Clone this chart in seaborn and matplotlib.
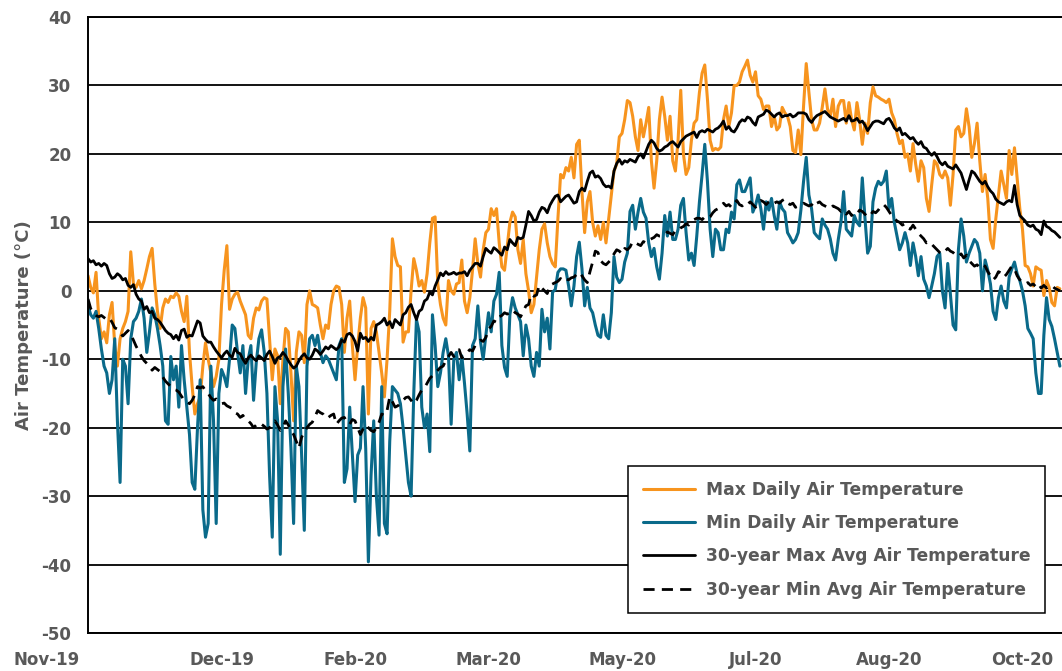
import pandas as pd
import matplotlib
matplotlib.use("Agg")
import matplotlib.pyplot as plt
import matplotlib.transforms as mtransforms
import seaborn as sns

########################## data ##########################

start_date = "2019-11-01"
tick_labels = ["Nov-19", "Dec-19", "Feb-20", "Mar-20", "May-20", "Jul-20", "Aug-20", "Oct-20"]
y_ticks = [-50, -40, -30, -20, -10, 0, 10, 20, 30, 40]

series_names = ["Max Daily Air Temperature", "Min Daily Air Temperature",
                "30-year Max Avg Air Temperature", "30-year Min Avg Air Temperature"]

# daily values (deg C), 1 Nov 2019 onwards
max_daily = [
    2.2, 0.5, -0.3, 2.7, -4, -7, -6, -7.6, -3.5, -1.7, -8, -11, -7, -5.5, -4.5, -3, 5.7, 1, 0.5, 1.5,
    0.3, 1.5, 3.2, 5, 6.2, 1, -3, -5.5, -2.5, -1.2, -1.7, -0.8, -1, -0.3, -0.8, -3, -4.5, -0.8, -9, -14,
    -18, -16.5, -15.5, -11, -7.6, -10,
    -12, -14, -12.5, -10, -2, 3, 6.6, -2.7, -1.2, -0.5, -0.2, -1.5, -2.5, -3.5, -6.5, -7, -4, -2.5, -2.8, -1.5,
    -1.0, -1.2, -7, -13, -8.5, -9.5, -16.5, -10, -5.5, -6, -12, -19, -9, -6, -6.5, -10.5, -2, 0, -2, -2.2,
    -2.5, -5, -7, -5, -5.5, -2, 0,
    0.7, 0.5, -2, -9, -4, -1.5, -8, -13, -8, -4, -1, -2.5, -18, -5.5, -4.5, -6, -9, -12, -15.5, -10,
    -3, 7.6, 5, 3.7, 3.5, -7.5, -6, -6, 0, 4.7, 3, 0.7, 1.5, -0.2, 2.5, 7, 10.6, 10.8, 1, -2,
    -4, -5, 1.5, 0, -0.5, 1, 1.2,
    4.5, -1.5, -3.2, -1, 3, 7.6, 4, 2, 6, 8.5, 9, 12, 11, 12, 7, 3.5, 3, 6.5, 10, 11.5,
    10.8, 6, 4, 7.5, 2.5, 0, -3.2, -2, 2, 6, 9, 9.8, 7, 5, 4, 3.5, 10.6, 17, 16.5, 18,
    17.5, 19.5, 16.5, 21.4, 22, 14.5, 8.5,
    13, 14.5, 10, 8, 9.5, 7.5, 10, 7, 10.5, 14, 17.5, 18.5, 22.5, 23, 25, 27.8, 27.5, 25.5, 22.5, 20.5,
    25, 22.5, 24.5, 26.8, 19, 15, 19, 25, 28.3, 25.5, 22, 25.5, 19, 17.5, 22, 29.3, 20, 17, 18, 22,
    24.5, 25, 29, 31.8, 33, 28, 22,
    20.5, 20.8, 20.6, 21, 25, 27, 24, 26, 30, 30, 30.5, 32, 32.8, 33.7, 31.5, 30.5, 32, 28.5, 28, 26.5,
    27, 27, 24, 25.5, 23.5, 24, 26.8, 26, 25.5, 24, 20.5, 20.2, 23.5, 19.9, 27, 33.2, 29, 25, 23.5, 23.5,
    24.5, 26.8, 29.5, 26.5, 25.5, 28, 24,
    27, 27.8, 27.8, 24.5, 27.5, 25, 23.5, 27.5, 25, 21.4, 24.5, 23, 27.5, 29.8, 28.5, 28.3, 28, 27.8, 27.5, 28,
    26, 25, 23, 21.5, 22, 19.5, 20, 17.5, 21.5, 18.5, 16, 19, 18, 13.5, 11.6, 15.5, 19, 18.5, 17, 16.5,
    17.5, 16.5, 12.5, 17, 23.5, 24,
    22.5, 23, 26.6, 24, 19.5, 21.5, 24.5, 19, 14.5, 17, 13.5, 7.5, 6.2, 10.5, 14, 17.5, 15.5, 13.5, 20.5, 17,
    20.9, 16.5, 12, 9, 3.7, 3.5, 2.5, 0.7, 3.5, 3.2, 3.0, -0.7, 1.5, 0.5, -1.7, -2.2, 0.5, 0.3,
]

min_daily = [
    -2.2, -3.5, -4, -3, -5.5, -8.5, -11, -12, -15, -13, -7, -19, -28, -10, -11, -16.5, -7, -4.5, -4, -3,
    -1.2, -4, -9, -6, -2.5, -3.5, -5.5, -8, -11, -19, -19.5, -9.6, -13, -11, -17, -8, -13, -17, -21, -28,
    -29, -20, -13, -32, -36, -34,
    -11, -19, -34, -15, -11.5, -12.5, -14, -10, -5, -5.5, -9, -12, -8, -15, -10, -8, -16, -10.5, -7, -5.7,
    -9, -15, -27, -36, -14, -19, -38.5, -14, -8.5, -15, -23, -34, -11, -14, -24, -35, -11, -7, -6.5, -8,
    -6.5, -9, -10.5, -9.5, -10, -11, -12,
    -13, -8, -7, -28, -26, -17, -24, -30.8, -24, -23, -14, -23, -39.6, -27, -19, -30, -35.7, -14, -34, -35.5,
    -22, -14, -14.5, -15, -16.5, -20, -24, -28, -30, -15, -4.2, -6, -17, -20, -18, -23.5, -3.5, -8, -14, -12,
    -9, -7, -9.5, -19.5, -10, -9, -13,
    -9.5, -13.5, -18, -23.4, -8, -7, -2.2, -7.5, -10, -6.5, -3.2, -6, -1.5, -0.5, 2.7, -8, -11.2, -12.5, -3.5, -1,
    -2.5, -3.5, -4.5, -9.5, -5, -7, -11, -12.5, -9, -11, -2.7, -6, -4, -8.5, -0.2, 0.2, 2.7, 3.2, 3.2, 3.0,
    0.7, -2.2, 0.7, 5, 7.1, 3.2, -2.2,
    0.5, -2.5, -3.2, -5, -6.5, -6.8, -3.5, -6.5, -7, -3.2, 5, 2, 1.2, 1.7, 4.2, 5.5, 11.6, 12.5, 9, 11.5,
    13.5, 11.5, 10.6, 7, 5, 6.2, 3.5, 1.7, 5.5, 11, 8, 11.5, 7.5, 7.5, 9, 12.5, 13.5, 8.5, 4.5, 5.5,
    3.7, 8, 13, 17, 21.4, 16, 9,
    5, 9, 8.5, 6, 6, 9, 8.5, 11.5, 10.5, 15.5, 16.2, 14.5, 14.5, 15.5, 16.5, 11.5, 12.5, 14, 12, 9,
    13, 11.8, 13.5, 11, 9, 13, 12, 11.5, 8.5, 7.8, 7, 7.5, 8.5, 11.8, 16, 19.5, 14, 12, 8.5, 8,
    7.6, 10.5, 9.6, 9, 7.6, 5.5, 4.5,
    7.5, 10, 14.5, 9, 8.5, 8, 11, 10, 9.5, 16.5, 10.6, 5.5, 6.5, 13, 15, 16, 15.5, 16, 17.5, 12,
    13.5, 10, 8, 6, 7, 8.5, 7, 3.7, 7, 5, 2.2, 5, 1.7, 0.7, -1, 0.7, 2.5, 5, 5.5, 0,
    -2.5, 4, -0.5, -5, -5.7, 6,
    10.5, 8, 4.2, 5.5, 6.5, 7.5, 7, 5.5, 0, 4.5, 3, 1, -3, -4.2, -1, 0.7, -1.5, -2.5, 2, 3.2,
    4.2, 2.5, 1.5, 0, -2.2, -5.5, -6.2, -7, -12, -15, -15, -6.5, -1, -4.2, -5.2, -7, -9, -11,
]

max_30yr = [
    4.7, 4.2, 4.4, 3.8, 4.0, 3.6, 4.0, 3.7, 2.5, 1.8, 2.0, 2.5, 2.2, 1.6, 1.8, 0.8, 0.5, 0.9, -0.5, -1.2,
    -1.5, -2.7, -2.3, -3.2, -3.0, -4.0, -4.2, -4.6, -5.2, -5.8, -6.2, -6.4, -7.0, -6.5, -7.2, -5.8, -5.6, -6.8, -6.5, -6.6,
    -5.5, -4.4, -4.7, -6.6, -7.1, -7.5,
    -7.5, -8.2, -8.8, -9.3, -9.8, -9.2, -8.8, -9.4, -9.7, -8.4, -9.0, -9.2, -10.0, -10.6, -9.8, -9.4, -9.9, -10.2, -9.5, -9.8,
    -10.2, -9.3, -8.8, -9.6, -10.6, -9.8, -9.6, -9.0, -9.5, -10.2, -10.8, -11.3, -11.0, -10.2, -9.6, -9.2, -9.8, -10.0, -9.4, -8.5,
    -8.8, -9.3, -8.8, -8.2, -8.5, -8.0, -8.3,
    -8.6, -8.2, -7.2, -7.5, -6.4, -6.2, -6.6, -7.4, -8.8, -6.2, -7.0, -6.8, -7.4, -6.8, -7.2, -5.0, -4.8, -4.5, -4.0, -5.0,
    -4.5, -5.4, -4.2, -4.6, -5.0, -3.5, -3.2, -2.4, -2.0, -3.2, -4.2, -3.0, -2.7, -1.5, -1.2, -0.2, -0.6, 0.7, 1.6, 2.6,
    2.2, 2.8, 2.4, 2.5, 2.7, 2.4, 2.6,
    2.6, 2.8, 2.2, 3.0, 3.5, 4.0, 4.0, 3.6, 5.0, 6.2, 5.8, 5.5, 6.3, 6.0, 5.6, 5.2, 6.4, 6.0, 7.5, 7.0,
    6.6, 7.8, 7.6, 7.8, 9.6, 11.6, 11.0, 10.2, 10.4, 11.5, 12.2, 12.0, 11.4, 12.5, 13.2, 13.8, 14.0, 13.0, 13.4, 13.8,
    14.0, 13.4, 12.8, 13.0, 14.5, 15.0, 14.6,
    16.0, 17.2, 17.5, 16.6, 16.8, 16.4, 15.6, 15.2, 15.3, 15.0, 17.5, 18.6, 19.2, 18.5, 19.0, 18.8, 19.2, 19.0, 18.8, 19.6,
    20.0, 19.4, 20.4, 21.4, 22.0, 21.6, 20.8, 20.4, 20.6, 21.0, 21.2, 21.6, 21.8, 21.4, 21.0, 21.8, 22.2, 22.6, 22.8, 23.0,
    23.2, 22.4, 23.2, 23.4, 23.2, 23.6, 23.4,
    23.2, 23.6, 23.8, 24.2, 24.8, 23.6, 24.0, 23.4, 23.2, 23.8, 24.6, 25.0, 24.8, 25.4, 25.2, 24.6, 24.2, 25.4, 25.6, 25.8,
    26.4, 26.2, 25.8, 25.4, 25.8, 26.0, 25.4, 25.6, 25.6, 25.8, 25.4, 25.6, 26.0, 26.0, 26.0, 25.8, 25.0, 24.6, 25.2, 25.6,
    25.8, 26.0, 26.2, 25.8, 25.4, 25.2, 25.0,
    24.8, 25.0, 25.2, 24.8, 25.6, 24.8, 24.9, 25.2, 24.6, 24.8, 24.2, 23.4, 24.0, 24.6, 24.8, 24.8, 24.6, 24.4, 25.0, 25.2,
    24.6, 23.8, 23.4, 23.8, 22.8, 23.0, 22.6, 22.2, 22.4, 21.8, 21.4, 21.8, 21.0, 20.8, 20.2, 19.8, 20.2, 19.6, 18.8, 18.4,
    18.8, 18.2, 18.0, 17.8, 18.4, 17.8,
    17.2, 16.0, 14.8, 16.2, 17.5, 17.2, 16.6, 16.0, 15.6, 16.0, 15.2, 14.6, 14.2, 13.4, 13.0, 12.8, 12.6, 13.0, 13.2, 13.0,
    15.4, 12.6, 11.0, 10.6, 10.2, 9.6, 9.4, 9.6, 9.0, 8.8, 8.2, 10.2, 9.4, 9.2, 8.8, 8.6, 8.2, 7.8,
]

min_30yr = [
    -1.2, -2.6, -3.2, -3.6, -3.8, -3.6, -3.9, -4.2, -4.0, -4.6, -5.4, -5.6, -6.2, -6.6, -6.2, -5.8, -6.4, -7.2, -8.1, -8.8,
    -9.6, -10.2, -10.6, -11.0, -11.6, -11.2, -11.5, -11.8, -12.6, -13.2, -13.6, -14.0, -14.4, -14.5, -14.8, -15.4, -16.0, -16.2, -16.5, -16.0,
    -15.2, -14.0, -14.2, -14.0, -14.6, -15.0,
    -15.6, -16.0, -15.8, -16.2, -16.5, -16.4, -16.8, -17.0, -17.2, -17.8, -18.0, -18.5, -18.2, -18.8, -19.0, -19.4, -20.0, -19.6, -19.8, -19.5,
    -19.8, -20.2, -20.0, -19.4, -19.0, -19.6, -20.4, -20.0, -19.0, -19.6, -20.4, -21.0, -22.0, -23.0, -21.4, -20.6, -20.0, -19.5, -19.2, -18.4,
    -17.5, -17.8, -18.0, -18.6, -18.5, -18.2, -18.0,
    -19.5, -19.0, -18.6, -18.5, -19.2, -19.5, -18.8, -19.0, -20.0, -21.0, -20.2, -19.6, -20.0, -20.4, -20.6, -20.0, -19.2, -18.0, -18.2, -17.5,
    -15.5, -16.2, -17.0, -16.8, -16.5, -16.0, -15.6, -15.5, -16.0, -16.5, -16.0, -15.2, -14.5, -14.2, -13.5, -12.8, -12.4, -12.0, -11.6, -11.2,
    -11.0, -10.2, -9.6, -9.0, -9.6, -9.0, -8.6,
    -9.8, -9.4, -9.0, -8.6, -8.8, -8.0, -7.6, -7.2, -7.4, -6.8, -5.6, -5.2, -4.4, -4.6, -3.8, -3.6, -3.2, -3.4, -3.2, -2.8,
    -3.2, -3.4, -3.8, -3.0, -2.2, -2.0, -0.5, -0.8, -0.6, 0.8, 0.4, 0.0, -0.4, 0.8, 1.0, 1.2, 1.4, 1.8, 1.4, 1.7,
    1.6, 1.9, 2.0, 2.4, 2.7, 2.2, 1.6,
    1.2, 2.8, 4.2, 5.8, 5.6, 4.4, 4.0, 3.8, 4.2, 4.6, 5.4, 6.0, 5.8, 5.4, 6.2, 6.0, 6.4, 7.2, 7.0, 6.8,
    6.6, 7.2, 7.0, 7.4, 7.6, 7.8, 8.2, 8.0, 8.0, 8.2, 8.6, 8.4, 8.2, 8.8, 8.8, 9.2, 9.4, 9.8, 9.6, 10.0,
    10.4, 10.6, 10.6, 10.4, 10.8, 10.6, 10.8,
    11.4, 11.8, 12.0, 12.4, 12.8, 12.4, 12.6, 12.2, 12.8, 13.2, 12.6, 12.4, 12.8, 12.6, 13.0, 12.6, 12.2, 12.8, 13.2, 13.0,
    12.6, 13.0, 13.2, 12.8, 13.0, 12.8, 13.2, 13.4, 12.8, 12.6, 12.8, 12.2, 12.4, 12.6, 12.8, 12.6, 12.4, 12.6, 12.2, 12.8,
    13.0, 12.6, 12.4, 12.2, 12.0, 12.4, 12.2,
    12.0, 11.6, 11.8, 11.2, 11.6, 11.0, 11.4, 11.2, 11.8, 11.6, 11.2, 10.8, 11.0, 11.6, 11.4, 11.8, 12.4, 12.6, 12.2, 11.6,
    11.0, 10.6, 10.2, 10.0, 9.6, 9.8, 9.2, 9.0, 9.6, 9.0, 8.4, 8.0, 7.6, 7.0, 7.2, 6.8, 6.4, 6.0, 5.6, 5.4,
    5.8, 6.2, 5.8, 5.6, 5.2, 5.0,
    5.4, 4.8, 5.2, 4.4, 4.0, 3.6, 3.8, 3.4, 3.8, 3.6, 2.8, 2.2, 1.6, 2.0, 2.8, 2.6, 2.0, 2.4, 3.0, 3.6,
    3.2, 2.2, 1.6, 1.4, 1.0, 1.2, 0.8, 1.0, 0.6, 1.0, 0.4, 0.8, 0.4, 0.6, 0.8, 0.4, 0.2, 0.0,
]

##################### frame #####################

dates = pd.date_range(start_date, periods=len(max_daily), freq="D")
df = pd.DataFrame({
    "date": dates,
    "max_daily": max_daily,
    "min_daily": min_daily,
    "max_30yr": max_30yr,
    "min_30yr": min_30yr,
})
tick_dates = pd.date_range(start_date, periods=len(tick_labels), freq="50D")

##################### plot #####################

sns.set_theme(style="white")
plt.rcParams["font.family"] = ["DejaVu Sans"]
plt.rcParams["axes.unicode_minus"] = False
grey = "#595959"

fig = plt.figure(figsize=(10.62, 6.71), dpi=100)
ax = fig.add_axes([0.0829, 0.0566, 0.9171, 0.918])

sns.lineplot(data=df, x="date", y="max_daily", color="#F7941E", linewidth=2.2,
             label=series_names[0], ax=ax)
sns.lineplot(data=df, x="date", y="min_daily", color="#0A6A8A", linewidth=2.2,
             label=series_names[1], ax=ax)
sns.lineplot(data=df, x="date", y="max_30yr", color="black", linewidth=2.0,
             label=series_names[2], ax=ax)
sns.lineplot(data=df, x="date", y="min_30yr", color="black", linewidth=2.0,
             label=series_names[3], ax=ax)
ax.lines[3].set_dashes([4, 2.6])

ax.set_ylim(-50, 40)
ax.set_yticks(y_ticks)
ax.set_xlim(dates[0], dates[0] + pd.Timedelta(days=364.8))
ax.set_xticks(tick_dates)
ax.set_xticklabels(tick_labels)

ax.grid(axis="y", color="black", linewidth=1.3)
ax.grid(axis="x", visible=False)
for side in ["left", "bottom", "top"]:
    ax.spines[side].set_visible(True)
    ax.spines[side].set_color("black")
    ax.spines[side].set_linewidth(1.4)
ax.spines["right"].set_visible(False)

ax.tick_params(axis="y", length=0, pad=12, labelsize=12, labelcolor=grey)
ax.tick_params(axis="x", length=0, pad=13, labelsize=12, labelcolor=grey)
for lab in ax.get_xticklabels() + ax.get_yticklabels():
    lab.set_fontweight("bold")

# first date label sits left of the axis like in the original
first = ax.get_xticklabels()[0]
first.set_ha("right")
first.set_transform(first.get_transform() + mtransforms.ScaledTranslation(-0.08, 0, fig.dpi_scale_trans))

ax.set_xlabel("")
ax.set_ylabel("Air Temperature (°C)", fontsize=13, fontweight="bold", color=grey)
ax.yaxis.set_label_coords(-0.0565, 0.5)

leg = ax.legend(loc="upper left", bbox_to_anchor=(0.5544, 0.2711), borderaxespad=0,
                fontsize=12.3, handlelength=3.1, handletextpad=0.6, labelspacing=0.9,
                borderpad=0.85, fancybox=False, framealpha=1, edgecolor="black")
leg.get_frame().set_linewidth(1.1)
for t in leg.get_texts():
    t.set_color(grey)
    t.set_fontweight("bold")

fig.savefig("out.png", dpi=100)
